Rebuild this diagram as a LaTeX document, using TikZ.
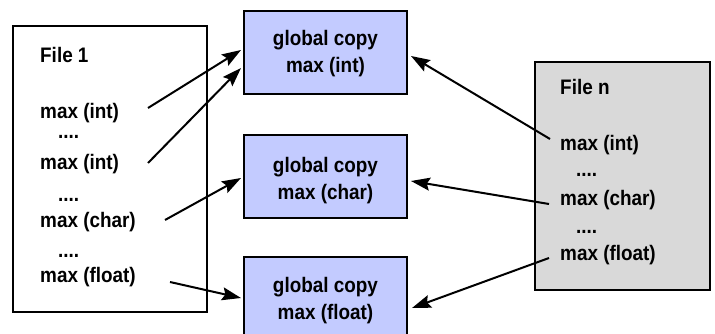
\documentclass[tikz,border=0pt]{standalone}
\usepackage{fontspec}
\setmainfont{Liberation Sans}[FakeStretch=0.9]
\usetikzlibrary{arrows.meta}
\definecolor{gblue}{RGB}{195,203,255}
\definecolor{fgray}{RGB}{217,217,217}
\begin{document}
\begin{tikzpicture}[x=1pt,y=-1pt,
  font=\fontsize{21}{27}\selectfont\bfseries,
  filebox/.style={draw, line width=2pt, inner sep=0pt},
  gbox/.style={draw, line width=2pt, fill=gblue, inner sep=0pt, minimum width=163pt},
  gtext/.style={align=center, inner sep=0pt},
  txt/.style={anchor=base west, inner sep=0pt},
  arr/.style={line width=2pt, -{Stealth[length=19pt,width=13pt,inset=3pt]}}]
\useasboundingbox (0,0) rectangle (715,334);
% file boxes
\node[filebox, minimum width=194pt, minimum height=286pt] (f1) at (110,169) {};
\node[filebox, fill=fgray, minimum width=175pt, minimum height=228pt] (fn) at (622.5,176) {};
% global copy boxes
\node[gbox, minimum height=83pt] (g1) at (325.5,52.5) {};
\node[gbox, minimum height=83pt] (g2) at (325.5,176.5) {};
\node[gbox, minimum height=95pt] (g3) at (325.5,304.5) {};
\node[gtext] (g1t) at (325.5,53.5) {global copy\\max (int)};
\node[gtext] (g2t) at (325.5,181) {global copy\\max (char)};
\node[gtext] (g3t) at (325.5,301) {global copy\\max (float)};
% File 1 texts
\node[txt] (l0) at (40,63) {File 1};
\node[txt] (l1) at (40,119) {max (int)};
\node[txt] (d1) at (58,139) {....};
\node[txt] (l2) at (40,170) {max (int)};
\node[txt] (d2) at (58,201) {....};
\node[txt] (l3) at (40,227) {max (char)};
\node[txt] (d3) at (58,257) {....};
\node[txt] (l4) at (40,282) {max (float)};
% File n texts
\node[txt] (r0) at (560,95) {File n};
\node[txt] (r1) at (560,150) {max (int)};
\node[txt] (e1) at (576,177) {....};
\node[txt] (r2) at (560,205) {max (char)};
\node[txt] (e2) at (576,233) {....};
\node[txt] (r3) at (560,260) {max (float)};
% arrow end points
\coordinate (a1s) at (148,108); \coordinate (a1e) at (241,50);
\coordinate (a2s) at (148,163); \coordinate (a2e) at (241,68);
\coordinate (a3s) at (165,220); \coordinate (a3e) at (241,178);
\coordinate (a4s) at (170,282); \coordinate (a4e) at (241,298);
\coordinate (b1s) at (550,139); \coordinate (b1e) at (411,56);
\coordinate (b2s) at (549,204); \coordinate (b2e) at (411,181);
\coordinate (b3s) at (549,258); \coordinate (b3e) at (412,308);
\draw[arr] (a1s) -- (a1e);
\draw[arr] (a2s) -- (a2e);
\draw[arr] (a3s) -- (a3e);
\draw[arr] (a4s) -- (a4e);
\draw[arr] (b1s) -- (b1e);
\draw[arr] (b2s) -- (b2e);
\draw[arr] (b3s) -- (b3e);
\end{tikzpicture}
\end{document}
